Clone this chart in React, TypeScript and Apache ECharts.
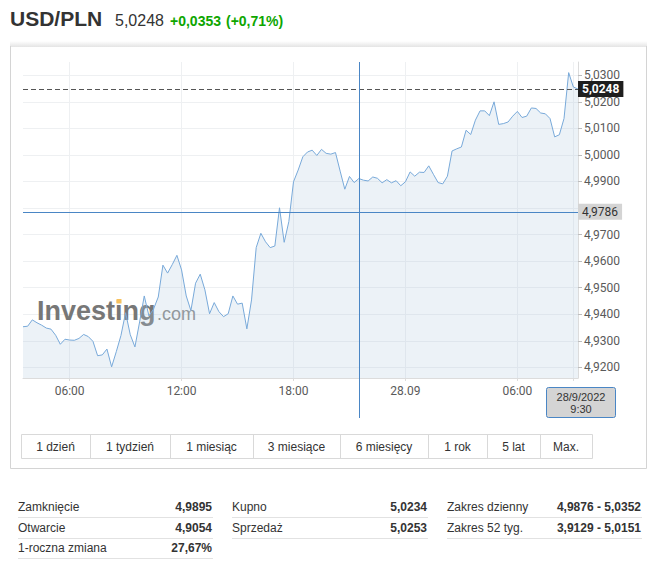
import React, { useEffect, useRef } from "react";
import * as echarts from "echarts";

// ---------- data ----------
const pairName = "USD/PLN";
const lastText = "5,0248";
const changeText = "+0,0353";
const changePctText = "(+0,71%)";

// 15-minute quotes, 27.09 03:30 -> 28.09 09:15
const times: string[] = (() => {
  const out: string[] = [];
  let day = 27, h = 3, m = 30;
  for (let i = 0; i < 120; i++) {
    out.push(`${day}.09 ${String(h).padStart(2, "0")}:${String(m).padStart(2, "0")}`);
    m += 15;
    if (m === 60) { m = 0; h += 1; }
    if (h === 24) { h = 0; day += 1; }
  }
  return out;
})();

const rates: number[] = [
  4.9353, 4.9355, 4.9379, 4.9368, 4.9359, 4.9348, 4.9344, 4.9321, 4.9287, 4.9306,
  4.9303, 4.9302, 4.9309, 4.9324, 4.9316, 4.9298, 4.9244, 4.9247, 4.9269, 4.9202,
  4.9259, 4.9320, 4.9406, 4.9323, 4.9277, 4.9371, 4.9469, 4.9394, 4.9420, 4.9465,
  4.9585, 4.9555, 4.9587, 4.9622, 4.9567, 4.9469, 4.9414, 4.9517, 4.9551, 4.9492,
  4.9402, 4.9444, 4.9410, 4.9391, 4.9402, 4.9469, 4.9438, 4.9442, 4.9345, 4.9454,
  4.9651, 4.9705, 4.9673, 4.9651, 4.9657, 4.9801, 4.9671, 4.9749, 4.9899, 4.9943,
  4.9993, 5.0011, 5.0018, 4.9998, 5.0021, 5.0006, 5.0003, 5.0009, 4.9939, 4.9871,
  4.9919, 4.9896, 4.9911, 4.9905, 4.9902, 4.9917, 4.9912, 4.9895, 4.9907, 4.9895,
  4.9903, 4.9884, 4.9899, 4.9936, 4.9920, 4.9935, 4.9934, 4.9959, 4.9927, 4.9896,
  4.9891, 4.9920, 5.0015, 5.0023, 5.0030, 5.0093, 5.0077, 5.0131, 5.0166, 5.0166,
  5.0148, 5.0200, 5.0115, 5.0118, 5.0124, 5.0146, 5.0164, 5.0141, 5.0146, 5.0177,
  5.0175, 5.0158, 5.0155, 5.0137, 5.0068, 5.0076, 5.0137, 5.0310, 5.0256, 5.0248,
];

const yTicks = [4.92, 4.93, 4.94, 4.95, 4.96, 4.97, 4.98, 4.99, 5.0, 5.01, 5.02, 5.03];
// 4,9800 is hidden behind the 4,9786 marker in the reference
const yLabels = [4.92, 4.93, 4.94, 4.95, 4.96, 4.97, 4.99, 5.0, 5.01, 5.02, 5.03];
const xTickTimes = ["27.09 06:00", "27.09 12:00", "27.09 18:00", "28.09 00:00", "28.09 06:00", "28.09 09:00"];
// 09:00 label is hidden behind the date box in the reference
const xLabelTimes = ["27.09 06:00", "27.09 12:00", "27.09 18:00", "28.09 00:00", "28.09 06:00"];
const lastPrice = 5.0248;
const crossPrice = 4.9786;
const crossTime = "27.09 21:30";
const dateBoxLines = ["28/9/2022", "9:30"];

const buttons = ["1 dzień", "1 tydzień", "1 miesiąc", "3 miesiące", "6 miesięcy", "1 rok", "5 lat", "Max."];
const buttonEdges = [21, 90, 170, 253, 340, 428, 487, 540, 592];

const tableCol1 = [["Zamknięcie", "4,9895"], ["Otwarcie", "4,9054"], ["1-roczna zmiana", "27,67%"]];
const tableCol2 = [["Kupno", "5,0234"], ["Sprzedaż", "5,0253"]];
const tableCol3 = [["Zakres dzienny", "4,9876 - 5,0352"], ["Zakres 52 tyg.", "3,9129 - 5,0151"]];

// ---------- styling ----------
const ARIAL = "'Liberation Sans', Arial, sans-serif";
const ROBOTO = "Roboto, 'Liberation Sans', Arial, sans-serif";
const fmt = (v: number) => Number(v).toFixed(4).replace(".", ",");
const isTick = (_i: number, v: string) => xTickTimes.indexOf(v) >= 0;
const isLabel = (_i: number, v: string) => xLabelTimes.indexOf(v) >= 0;

function txt(text: string, x: number, y: number, font: string, fill: string, align = "left", z = 10) {
  return { type: "text", x, y, z, silent: true, style: { text, font, fill, textAlign: align, textVerticalAlign: "middle" } };
}
function hline(x1: number, x2: number, y: number, stroke: string, z = 10) {
  return { type: "line", z, silent: true, shape: { x1, y1: y, x2, y2: y }, style: { stroke, lineWidth: 1 } };
}

function buildGraphics(cx: number) {
  const els: any[] = [];
  // header
  els.push(txt(pairName, 10, 18, `bold 21px ${ARIAL}`, "#333"));
  els.push(txt(lastText, 115, 20.5, `16px ${ARIAL}`, "#333"));
  els.push(txt(changeText, 170, 21, `bold 14px ${ARIAL}`, "#0ea600"));
  els.push(txt(changePctText, 226, 21, `bold 14px ${ARIAL}`, "#0ea600"));
  // panel
  els.push({
    type: "rect", z: 0, silent: true, shape: { x: 10, y: 41, width: 637, height: 6 },
    style: { fill: new echarts.graphic.LinearGradient(0, 0, 0, 1, [{ offset: 0, color: "#ffffff" }, { offset: 1, color: "#e4e4e4" }]) },
  });
  els.push({
    type: "polyline", z: 0, silent: true,
    shape: { points: [[10.5, 46], [10.5, 468.5], [646.5, 468.5], [646.5, 46]] },
    style: { stroke: "#d4d4d4", fill: "none", lineWidth: 1 },
  });
  // watermark
  els.push(txt("Investing", 37, 310.5, `bold 27px ${ARIAL}`, "#777777", "left", 1));
  els.push(txt(".com", 157, 314, `18px ${ARIAL}`, "#888888", "left", 1));
  els.push({ type: "rect", z: 1, silent: true, shape: { x: 116.5, y: 299, width: 5, height: 4.5 }, style: { fill: "#f7c15e" } });
  // crosshair
  const xc = Math.round(cx) + 0.5;
  els.push({ type: "line", z: 30, silent: true, shape: { x1: xc, y1: 62, x2: xc, y2: 418 }, style: { stroke: "#4a86c5", lineWidth: 1 } });
  // date box
  els.push({
    type: "rect", z: 40, silent: true, shape: { x: 546.5, y: 387.5, width: 69, height: 30, r: 2 },
    style: { fill: "#d4d4d4", stroke: "#4a86c5", lineWidth: 1 },
  });
  els.push(txt(dateBoxLines[0], 581, 396.5, `11px ${ARIAL}`, "#333", "center", 41));
  els.push(txt(dateBoxLines[1], 581, 409, `11px ${ARIAL}`, "#333", "center", 41));
  // buttons
  els.push({
    type: "rect", z: 10, silent: true,
    shape: { x: buttonEdges[0] + 0.5, y: 434.5, width: buttonEdges[buttonEdges.length - 1] - buttonEdges[0], height: 24 },
    style: { fill: "#fff", stroke: "#d9d9d9", lineWidth: 1 },
  });
  buttons.forEach((b, i) => {
    const a = buttonEdges[i], e = buttonEdges[i + 1];
    if (i > 0) els.push({ type: "line", z: 11, silent: true, shape: { x1: a + 0.5, y1: 434.5, x2: a + 0.5, y2: 458.5 }, style: { stroke: "#d9d9d9", lineWidth: 1 } });
    els.push(txt(b, (a + e) / 2, 446.5, `12px ${ARIAL}`, "#333", "center", 12));
  });
  // table
  const rowsY = [507, 527.5, 548];
  const lineY = [517.5, 538.5, 558.5];
  const cols: [string[][], number, number][] = [[tableCol1, 18, 212], [tableCol2, 232, 427], [tableCol3, 447, 641]];
  cols.forEach(([rows, l, r]) => {
    rows.forEach((row, i) => {
      els.push(txt(row[0], l, rowsY[i], `12px ${ARIAL}`, "#333"));
      els.push(txt(row[1], r, rowsY[i], `bold 12px ${ARIAL}`, "#333", "right"));
      els.push(hline(l, r + 1, lineY[i], "#e2e2e2"));
    });
  });
  return els;
}

const option: any = {
  animation: false,
  backgroundColor: "#ffffff",
  grid: { left: 23, top: 62, width: 555, height: 316, containLabel: false },
  xAxis: {
    type: "category",
    data: times,
    boundaryGap: false,
    axisLine: { show: true, lineStyle: { color: "#dcdcdc" } },
    axisTick: { show: true, length: 3, interval: isTick, lineStyle: { color: "#dcdcdc" } },
    axisLabel: {
      interval: isLabel,
      margin: 7,
      color: "#5a5a5a",
      fontFamily: ROBOTO,
      fontSize: 12,
      formatter: (v: string) => (v.endsWith("00:00") ? v.slice(0, 5) : v.slice(6)),
    },
    splitLine: { show: true, interval: isTick, lineStyle: { color: "#eef0f2" } },
  },
  yAxis: {
    type: "value",
    position: "right",
    min: 4.916,
    max: 5.035,
    axisLine: { show: true, lineStyle: { color: "#dcdcdc" } },
    axisTick: { show: true, length: 4, customValues: yTicks, lineStyle: { color: "#bdbdbd" } },
    axisLabel: { customValues: yLabels, margin: 6, color: "#5a5a5a", fontFamily: ROBOTO, fontSize: 12, formatter: (v: number) => fmt(v) },
    splitLine: { show: true, lineStyle: { color: "#eef0f2" } },
  },
  series: [
    {
      type: "line",
      data: rates,
      showSymbol: false,
      symbol: "none",
      lineStyle: { color: "#78a9d9", width: 1 },
      areaStyle: { color: "rgba(178,201,224,0.35)", origin: "start" },
      markLine: {
        silent: true,
        precision: 4,
        symbol: ["none", "none"],
        animation: false,
        data: [
          {
            yAxis: lastPrice,
            lineStyle: { color: "#555", type: [5, 3], width: 1 },
            label: {
              show: true, position: "end", distance: 0, formatter: (p: any) => fmt(p.value),
              backgroundColor: "#1e1e1e", color: "#ffffff", padding: [2, 4, 2, 4],
              fontFamily: ROBOTO, fontSize: 12, fontWeight: "bold",
            },
          },
          {
            yAxis: crossPrice,
            lineStyle: { color: "#4a86c5", type: "solid", width: 1 },
            label: {
              show: true, position: "end", distance: 0, formatter: (p: any) => fmt(p.value),
              backgroundColor: "#d4d4d4", color: "#333", padding: [2, 4, 2, 4],
              fontFamily: ROBOTO, fontSize: 12,
            },
          },
        ],
      },
    },
  ],
};

export default function App() {
  const ref = useRef<HTMLDivElement>(null);
  useEffect(() => {
    const chart = echarts.init(ref.current!, null, { renderer: "svg" });
    chart.setOption(option);
    const cx = chart.convertToPixel({ xAxisIndex: 0 }, crossTime) as number;
    chart.setOption({ graphic: { elements: buildGraphics(cx) } });
    return () => chart.dispose();
  }, []);
  return (
    <div
      ref={ref}
      style={{ position: "absolute", left: 0, top: 0, width: 655, height: 570, background: "#fff" }}
    />
  );
}
